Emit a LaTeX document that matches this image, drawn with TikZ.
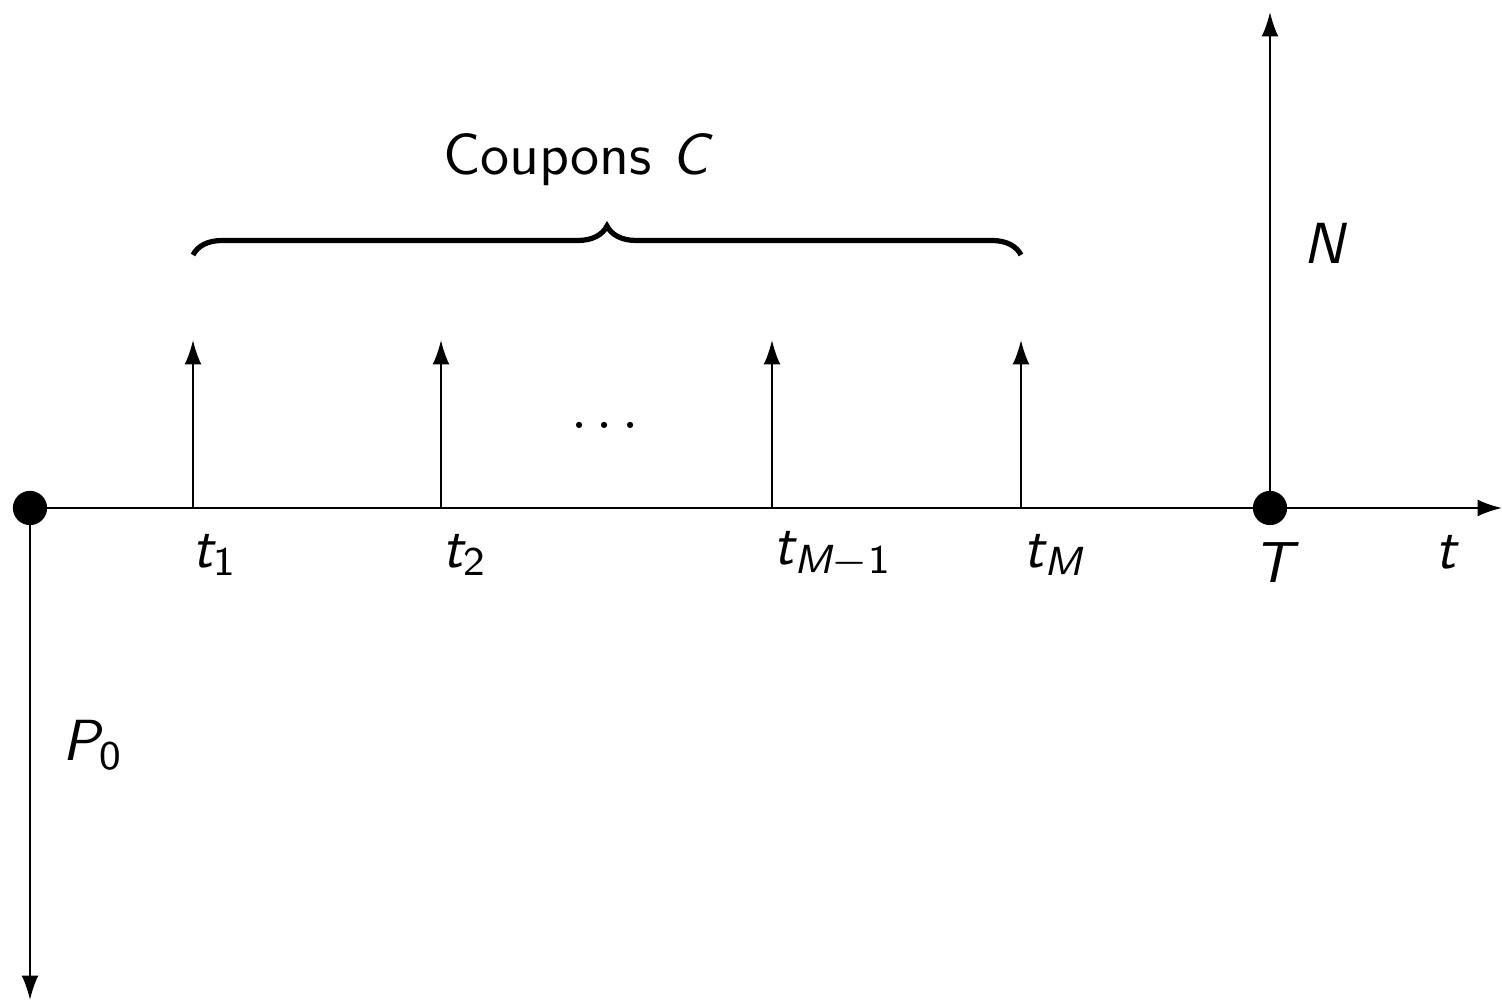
\documentclass[tikz,border=0pt]{standalone}
\usepackage{amsmath}
\usetikzlibrary{arrows.meta,decorations.pathreplacing}
\newcommand{\vi}[1]{\textit{#1}}
\newcommand{\vu}[1]{\textup{#1}}
\begin{document}
\sffamily
\begin{tikzpicture}[x=0.1724pt,y=-0.1724pt,
  flow/.style={-{Latex[length=4.2pt,width=2.9pt]},line width=0.38pt},
  dot/.style={circle,fill=black,inner sep=0pt,minimum size=5.9pt},
  lbl/.style={inner sep=0pt,font=\fontsize{10}{12}\selectfont\sffamily}]
\useasboundingbox (0,0) rectangle (1502,1002);
\node[dot] (d0) at (30,508) {};
\node[dot] (dT) at (1270,508) {};
\coordinate (xend) at (1502,508);
\coordinate (pend) at (30,1000);
\coordinate (nend) at (1270,12);
\draw[line width=0.38pt] (d0.center) -- (dT.center);
\draw[flow] (dT.center) -- (xend);
\draw[flow] (d0.center) -- (pend);
\draw[flow] (dT.center) -- (nend);
\foreach \x/\n in {193/c1,441/c2,772/c3,1021/c4}{
  \coordinate (\n b) at (\x,508);
  \coordinate (\n t) at (\x,340);
  \draw[flow] (\n b) -- (\n t);
}
\node[lbl] (l1) at (215,555) {$\vi{t}_{\vu{1}}$};
\node[lbl] (l2) at (465,555) {$\vi{t}_{\vu{2}}$};
\node[lbl] (l3) at (833,555) {$\vi{t}_{\vi{M}-\vu{1}}$};
\node[lbl] (l4) at (1054,555) {$\vi{t}_{\vi{M}}$};
\node[lbl] (lT) at (1276,563) {\vi{T}};
\node[lbl] (lt) at (1447,552) {\vi{t}};
\node[lbl] (lN) at (1326,243) {\vi{N}};
\node[lbl] (lP) at (93,745) {$\vi{P}_{\vu{0}}$};
\node[lbl] (dots) at (605,425) {$\ldots$};
\coordinate (bl) at (193,255);
\coordinate (br) at (1021,255);
\draw[line width=0.9pt,decorate,decoration={brace,amplitude=5pt}] (bl) -- (br);
\node[lbl] (cp) at (578,160) {Coupons \vi{C}};
\end{tikzpicture}
\end{document}
